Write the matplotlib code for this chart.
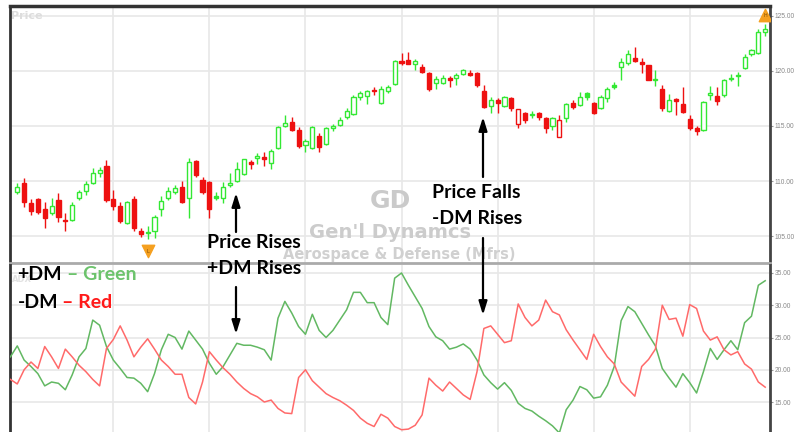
import matplotlib.pyplot as plt
import numpy as np
from matplotlib.patches import FancyArrowPatch

# daily candles (GD)
opens = [109.0, 109.8, 108.0, 108.4, 107.5, 107.1, 108.3, 106.5, 106.5, 108.5,
         109.1, 109.8, 110.7, 111.4, 108.4, 107.7, 106.2, 108.4, 105.5, 105.35,
         105.5, 107.5, 108.5, 109.0, 109.5, 108.5, 111.8, 110.1, 109.9, 108.55,
         108.5, 109.6, 110.0, 110.6, 111.7, 112.1, 112.2, 111.6, 113.0, 115.0,
         115.4, 114.6, 113.3, 113.0, 114.1, 113.4, 114.8, 115.1, 115.8, 116.1,
         117.6, 117.7, 118.25, 117.1, 118.2, 118.8, 120.9, 121.0, 120.6, 120.4,
         119.8, 118.9, 118.9, 119.4, 119.4, 119.7, 119.8, 119.8, 118.2, 116.8,
         117.4, 116.8, 117.5, 115.2, 116.2, 116.0, 116.2, 115.7, 115.0, 114.0,
         115.7, 117.1, 116.9, 118.0, 117.1, 116.6, 117.5, 118.7, 120.4, 120.7,
         121.2, 120.8, 120.55, 119.2, 118.4, 116.4, 117.45, 117.0, 115.6, 114.8,
         114.6, 117.8, 117.7, 117.8, 119.4, 119.65, 120.3, 121.5, 121.6, 123.5]
highs = [109.8, 110.3, 108.4, 108.5, 108.1, 108.5, 108.9, 107.1, 108.1, 109.2,
         110.0, 111.2, 111.3, 111.9, 109.2, 108.1, 108.2, 108.6, 105.7, 105.9,
         106.9, 108.6, 109.5, 109.6, 110.0, 112.1, 111.9, 110.4, 110.0, 109.0,
         109.9, 110.7, 111.7, 112.0, 111.9, 112.5, 112.6, 112.9, 115.0, 116.0,
         115.8, 114.9, 113.8, 115.0, 114.4, 114.9, 115.2, 115.8, 116.6, 117.8,
         118.2, 118.3, 118.5, 118.6, 118.7, 121.0, 121.6, 121.7, 121.1, 120.6,
         119.9, 119.5, 119.6, 119.5, 119.8, 120.2, 120.1, 119.9, 118.7, 117.6,
         117.5, 117.7, 117.6, 116.55, 116.3, 116.4, 116.3, 115.8, 115.8, 116.0,
         117.1, 117.4, 118.1, 118.1, 117.2, 117.8, 118.5, 119.0, 121.2, 121.9,
         122.2, 121.2, 120.55, 120.1, 118.7, 117.9, 117.5, 118.5, 116.0, 115.0,
         117.3, 118.6, 118.5, 119.3, 119.7, 119.9, 121.5, 122.0, 123.8, 124.3]
lows = [108.8, 107.6, 106.9, 107.0, 105.7, 106.9, 106.3, 105.5, 106.4, 108.3,
        108.7, 109.7, 110.4, 108.1, 107.4, 106.2, 106.1, 105.5, 104.9, 104.7,
        104.8, 106.8, 108.3, 108.8, 108.0, 106.6, 110.4, 108.8, 106.6, 108.3,
        108.0, 109.5, 109.9, 110.5, 111.1, 111.5, 111.4, 111.1, 112.9, 114.9,
        114.5, 113.0, 112.6, 112.9, 112.6, 113.3, 114.5, 115.0, 115.6, 116.0,
        117.4, 117.0, 117.8, 117.0, 118.0, 118.7, 120.5, 120.6, 120.1, 119.8,
        118.2, 118.4, 118.8, 118.5, 118.7, 119.6, 119.5, 118.5, 116.6, 116.2,
        116.2, 116.7, 116.4, 114.8, 115.3, 115.7, 115.5, 114.4, 114.6, 114.0,
        115.4, 116.5, 116.8, 117.4, 116.1, 116.5, 117.2, 118.4, 119.2, 120.5,
        120.85, 119.8, 119.15, 118.6, 116.4, 116.3, 116.0, 116.2, 114.6, 114.2,
        114.55, 117.4, 116.9, 117.6, 119.1, 118.6, 120.2, 121.4, 121.5, 123.2]
closes = [109.5, 108.1, 107.3, 107.2, 106.6, 107.7, 106.7, 106.4, 107.8, 109.0,
          109.7, 110.7, 111.0, 108.3, 107.7, 106.4, 108.1, 105.7, 105.2, 105.3,
          106.7, 108.2, 109.1, 109.4, 108.1, 111.7, 110.5, 109.0, 107.5, 108.5,
          109.5, 109.8, 111.1, 112.0, 111.5, 112.3, 112.0, 112.7, 114.9, 115.3,
          114.6, 113.2, 113.6, 114.9, 113.1, 114.8, 115.0, 115.5, 116.4, 117.6,
          118.0, 118.2, 118.15, 118.4, 118.5, 120.9, 120.7, 120.65, 120.9, 119.9,
          118.4, 119.3, 119.4, 119.2, 119.6, 120.1, 119.6, 118.7, 116.7, 117.4,
          117.1, 117.6, 116.6, 116.5, 115.5, 116.1, 115.8, 114.8, 115.7, 115.5,
          117.0, 116.7, 117.6, 117.65, 116.2, 117.6, 118.4, 118.5, 120.8, 121.5,
          120.9, 120.6, 119.15, 119.3, 116.6, 117.4, 117.3, 116.3, 114.8, 114.5,
          117.2, 118.0, 117.3, 119.2, 119.25, 119.5, 121.3, 121.9, 123.5, 123.8]

# +DM / -DM lines, one point per candle plus one before the first candle
plus_dm = [22.0, 23.7, 21.5, 20.5, 19.4, 17.5, 18.1, 17.9, 16.9, 19.2, 22.0,
           23.3, 27.7, 26.9, 23.6, 21.5, 20.2, 18.8, 18.7, 17.9, 16.6, 19.4,
           23.1, 25.5, 25.0, 23.2, 26.0, 24.6, 23.2, 21.0, 19.3, 20.5, 22.3,
           24.1, 23.8, 23.8, 23.5, 23.1, 21.5, 28.0, 30.6, 28.8, 26.7, 25.5,
           28.6, 26.1, 25.0, 26.1, 27.7, 29.3, 32.0, 32.0, 30.4, 30.4, 28.1,
           27.0, 34.2, 35.0, 33.1, 31.3, 29.5, 26.7, 25.1, 24.5, 23.2, 23.5,
           24.0, 23.2, 21.5, 19.2, 18.0, 17.0, 18.0, 16.8, 14.8, 14.0, 13.6,
           12.8, 12.1, 11.3, 10.2, 13.8, 15.3, 17.4, 16.9, 15.6, 15.8, 17.6,
           20.5, 27.6, 29.8, 29.0, 27.2, 25.4, 23.7, 20.2, 18.7, 17.3, 19.4,
           18.0, 16.4, 19.7, 23.3, 21.6, 23.1, 24.5, 23.1, 27.3, 28.3, 33.1, 33.8]
minus_dm = [18.5, 17.8, 20.0, 21.2, 20.2, 23.6, 22.0, 20.2, 23.2, 22.0, 20.7,
            19.7, 18.5, 17.5, 23.3, 24.7, 26.8, 24.6, 22.0, 23.5, 24.8, 23.2,
            21.5, 20.5, 19.3, 19.3, 15.7, 14.7, 18.1, 22.8, 21.5, 20.3, 19.3,
            18.1, 17.1, 16.3, 15.8, 15.0, 15.3, 14.0, 13.3, 13.2, 18.8, 20.0,
            18.3, 17.3, 16.3, 15.7, 15.2, 14.5, 13.7, 12.5, 11.7, 11.2, 13.1,
            12.5, 11.2, 10.7, 10.8, 11.4, 13.0, 18.7, 17.6, 16.7, 18.1, 17.1,
            16.1, 15.4, 19.7, 26.4, 26.8, 25.5, 24.2, 24.5, 30.2, 28.1, 26.8,
            27.7, 30.8, 29.0, 28.5, 26.2, 24.6, 23.1, 21.6, 25.5, 23.6, 22.0,
            20.9, 18.1, 17.0, 15.9, 20.5, 21.6, 23.2, 30.0, 27.8, 28.0, 25.2,
            30.1, 29.5, 26.0, 24.6, 25.1, 23.1, 22.3, 22.8, 20.9, 20.1, 18.1, 17.3]

price_ticks = [105, 110, 115, 120, 125]
dm_ticks = [15, 20, 25, 30, 35]

W, H = 798, 432
fig = plt.figure(figsize=(W / 100, H / 100), dpi=100)


def fx(px):
    return px / W


def fy(py):
    return 1 - py / H


ax1 = fig.add_axes([fx(10), fy(263), fx(770) - fx(10), fy(6) - fy(263)])
ax2 = fig.add_axes([fx(10), 0, fx(770) - fx(10), fy(265)])

n = len(closes)
idx = np.arange(n)
o = np.array(opens)
h = np.array(highs)
l = np.array(lows)
c = np.array(closes)
prev = np.r_[o[0], c[:-1]]

GREEN = '#33e833'
RED = '#ee1111'
cols = np.where(c >= prev, GREEN, RED)
faces = [('white' if cc > oo else col) for cc, oo, col in zip(c, o, cols)]

ax1.vlines(idx, l, h, colors=cols, lw=1, zorder=3)
ax1.bar(idx, np.maximum(np.abs(c - o), 0.1), 0.6, bottom=np.minimum(o, c),
        color=faces, edgecolor=cols, linewidth=1, zorder=4)

# low / high markers
lo, hi = np.argmin(l), np.argmax(h)
ax1.scatter(lo, l[lo] - 1.05, marker='v', s=80, color='#f5a020', zorder=5)
ax1.text(lo, l[lo] - 1.15, 'L', fontsize=3.5, ha='center', va='center', color='#7a4a00', zorder=6)
ax1.scatter(hi, h[hi] + 0.8, marker='^', s=80, color='#f5a020', zorder=5)
ax1.text(hi, h[hi] + 0.7, 'H', fontsize=3.5, ha='center', va='center', color='#7a4a00', zorder=6)

xdm = np.arange(-1, n)
ax2.plot(xdm, plus_dm, color='#62b862', lw=1.1, zorder=3)
ax2.plot(xdm, minus_dm, color='#ff6a6a', lw=1.1, zorder=3)

for ax, ticks, ylim in [(ax1, price_ticks, (102.55, 125.9)), (ax2, dm_ticks, (10.35, 36.24))]:
    ax.set_xlim(-1.06, 109.7)
    ax.set_ylim(*ylim)
    ax.set_xticks(np.arange(14, n, 14))
    ax.set_yticks(ticks)
    ax.set_yticklabels(['%.2f' % t for t in ticks], family='Liberation Sans')
    ax.yaxis.tick_right()
    ax.tick_params(axis='x', length=0, labelbottom=False)
    ax.tick_params(axis='y', length=2.5, width=0.8, color='#999999', labelsize=4.8,
                   labelcolor='#888888', pad=1)
    ax.grid(color='#e8e8e8', lw=1.2, zorder=0)
    ax.set_axisbelow(True)
    ax.spines['left'].set_color('#333333')
    ax.spines['left'].set_linewidth(2)
    ax.spines['right'].set_color('#444444')
    ax.spines['right'].set_linewidth(2)

ax1.spines['top'].set_color('#333333')
ax1.spines['top'].set_linewidth(2.5)
ax1.spines['bottom'].set_color('#aaaaaa')
ax1.spines['bottom'].set_linewidth(2)
ax2.spines['top'].set_visible(False)
ax2.spines['bottom'].set_visible(False)

# panel labels and watermark
ax1.text(fx(11), fy(16), 'Price', transform=fig.transFigure, fontsize=8, fontweight='bold',
         color='#dddddd', va='center', zorder=1)
ax2.text(fx(12), fy(279), 'ADX', transform=fig.transFigure, fontsize=6, fontweight='bold',
         color='#e2e2e2', va='center', zorder=1)
ax1.text(fx(390), fy(201), 'GD', transform=fig.transFigure, fontsize=18, fontweight='bold',
         color='#cacaca', ha='center', va='center', zorder=1)
ax1.text(fx(390), fy(233), "Gen'l Dynamcs", transform=fig.transFigure, fontsize=14,
         fontweight='bold', color='#cccccc', ha='center', va='center', zorder=1)
ax1.text(fx(399), fy(254), 'Aerospace & Defense (Mfrs)', transform=fig.transFigure, fontsize=10.5,
         fontweight='bold', color='#d0d0d0', ha='center', va='center', zorder=1)

# callouts
tkw = dict(fontsize=14, fontweight='bold', family='Lato', color='black', va='center')
fig.text(fx(207), fy(242), 'Price Rises', **tkw)
fig.text(fx(207), fy(268), '+DM Rises', **tkw)
fig.text(fx(432), fy(192), 'Price Falls', **tkw)
fig.text(fx(432), fy(218), '-DM Rises', **tkw)

for x0, y0, y1 in [(236, 232, 193), (236, 287, 334), (483, 177, 117), (483, 238, 315)]:
    fig.add_artist(FancyArrowPatch((fx(x0), fy(y0)), (fx(x0), fy(y1)), transform=fig.transFigure,
                                   arrowstyle='-|>,head_length=0.8,head_width=0.25',
                                   mutation_scale=10, lw=1.6, color='black',
                                   shrinkA=0, shrinkB=0, zorder=6))

fig.text(fx(17), fy(275), '+DM', **tkw)
fig.text(fx(67), fy(275), '\u2013 Green', **dict(tkw, color='#6cc36c'))
fig.text(fx(18), fy(303), '-DM', **tkw)
fig.text(fx(62), fy(303), '\u2013 Red', **dict(tkw, color='#ff1a1a'))

fig.savefig('out.png', dpi=100, facecolor='white')
